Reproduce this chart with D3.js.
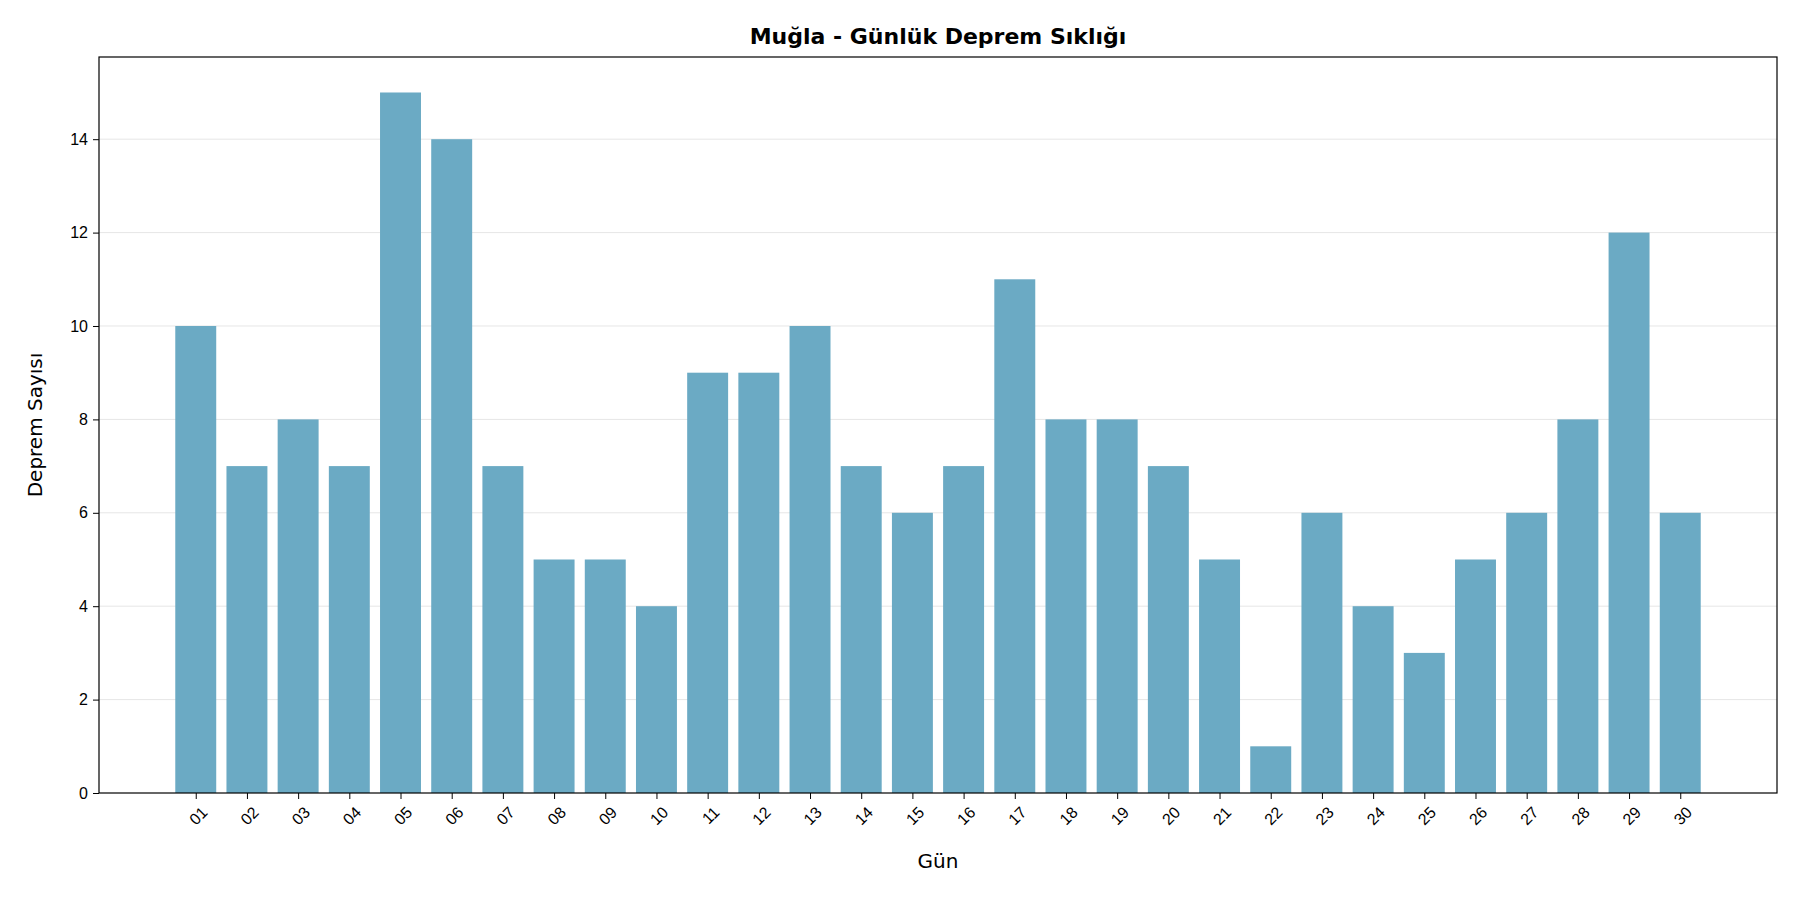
<!DOCTYPE html>
<html><head><meta charset="utf-8">
<script src="https://cdn.jsdelivr.net/npm/d3@7"></script>
<style>body{margin:0;background:#fff}svg{font-family:"DejaVu Sans",sans-serif}</style>
</head><body><svg id="c" width="1800" height="900"></svg>
<script>
const days = ["01","02","03","04","05","06","07","08","09","10","11","12","13","14","15","16","17","18","19","20","21","22","23","24","25","26","27","28","29","30"];
const counts = [10,7,8,7,15,14,7,5,5,4,9,9,10,7,6,7,11,8,8,7,5,1,6,4,3,5,6,8,12,6];
const yTicks = [0,2,4,6,8,10,12,14];

const M = {l: 99, r: 1777, t: 57, b: 793};
const svg = d3.select('#c');
const x = d3.scaleLinear().domain([-1.89, 30.89]).range([M.l, M.r]);
const y = d3.scaleLinear().domain([0, 15.76]).range([M.b, M.t]);

// grid
svg.append('g').selectAll('line').data(yTicks.slice(1)).join('line')
  .attr('x1', M.l).attr('x2', M.r).attr('y1', d => y(d)).attr('y2', d => y(d))
  .attr('stroke', '#e6e6e6').attr('stroke-width', 1);

// bars
svg.append('g').selectAll('rect').data(counts).join('rect')
  .attr('x', (d, i) => x(i - 0.4)).attr('width', x(0.8) - x(0))
  .attr('y', d => y(d)).attr('height', d => y(0) - y(d))
  .attr('fill', '#6baac4');

// axes
const ya = svg.append('g').attr('transform', `translate(${M.l},0)`)
  .call(d3.axisLeft(y).tickValues(yTicks).tickSize(6).tickPadding(5));
const xa = svg.append('g').attr('transform', `translate(0,${M.b})`)
  .call(d3.axisBottom(x).tickValues(d3.range(30)).tickFormat(i => days[i]).tickSize(6));
[ya, xa].forEach(a => { a.select('.domain').remove(); a.selectAll('text').attr('font-size', 16).attr('fill', '#000'); a.selectAll('line').attr('stroke', '#000'); });
xa.selectAll('text').attr('text-anchor', 'end').attr('dy', null)
  .attr('transform', 'translate(6,14) rotate(-45)');

svg.append('rect').attr('x', M.l).attr('y', M.t).attr('width', M.r - M.l).attr('height', M.b - M.t)
  .attr('fill', 'none').attr('stroke', '#000').attr('stroke-width', 1.2);

svg.append('text').attr('x', (M.l + M.r) / 2).attr('y', 44).attr('text-anchor', 'middle')
  .attr('font-size', 22).attr('font-weight', 'bold').text('Muğla - Günlük Deprem Sıklığı');
svg.append('text').attr('x', (M.l + M.r) / 2).attr('y', 868).attr('text-anchor', 'middle')
  .attr('font-size', 20).text('Gün');
svg.append('text').attr('transform', `translate(42,${(M.t + M.b) / 2}) rotate(-90)`).attr('text-anchor', 'middle')
  .attr('font-size', 20).text('Deprem Sayısı');
</script></body></html>
